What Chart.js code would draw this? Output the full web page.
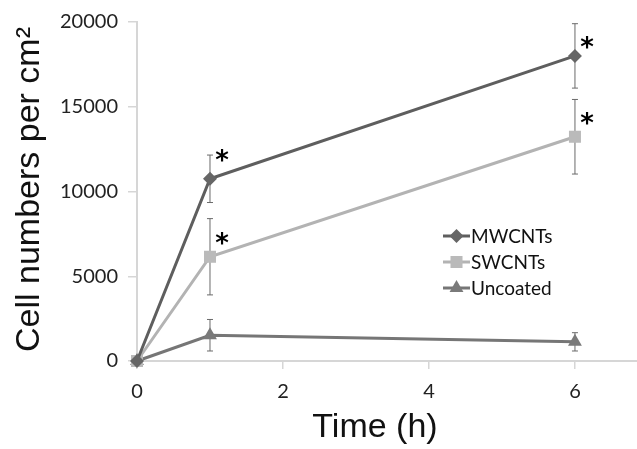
<!DOCTYPE html>
<html>
<head>
<meta charset="utf-8">
<script src="https://cdn.jsdelivr.net/npm/chart.js@4"></script>
<style>
    html, body { margin: 0; padding: 0; background: #fff; overflow: hidden; }
</style>
</head>
<body>
<canvas id="chart" width="637" height="449"></canvas>
<script>
// Chart data
const times = [0, 1, 6];
const xTicks = [0, 2, 4, 6];
const yTicks = [0, 5000, 10000, 15000, 20000];
const seriesNames = ["MWCNTs", "SWCNTs", "Uncoated"];

const mwValues = [0, 10750, 18000];
const mwErrors = [0, 1400, 1900];
const swValues = [0, 6150, 13230];
const swErrors = [0, 2250, 2200];
const unValues = [0, 1520, 1130];
const unErrors = [0, 930, 540];

// significance marks (value where the * sits)
const mwStars = [null, 12120, 18800];
const swStars = [null, 7200, 14300];

const xTitle = "Time (h)";
const yTitle = "Cell numbers per cm\u00B2";

function toPoints(values) {
    return times.map((t, i) => ({ x: t, y: values[i] }));
}

// Error bars drawn through the scales
const errorBars = {
    id: "errorBars",
    beforeDatasetsDraw(chart) {
        const ctx = chart.ctx;
        const xs = chart.scales.x;
        const ys = chart.scales.y;
        ctx.save();
        ctx.strokeStyle = "#6a6a6a";
        ctx.lineWidth = 1;
        chart.data.datasets.forEach(ds => {
            ds.errors.forEach((e, i) => {
                if (!e) return;
                const x = xs.getPixelForValue(times[i]);
                const top = ys.getPixelForValue(ds.values[i] + e);
                const bot = ys.getPixelForValue(ds.values[i] - e);
                ctx.beginPath();
                ctx.moveTo(x, top); ctx.lineTo(x, bot);
                ctx.moveTo(x - 3, top); ctx.lineTo(x + 3, top);
                ctx.moveTo(x - 3, bot); ctx.lineTo(x + 3, bot);
                ctx.stroke();
            });
        });
        ctx.restore();
    }
};

// Asterisks, legend and axis titles
const extras = {
    id: "extras",
    afterDraw(chart) {
        const ctx = chart.ctx;
        const xs = chart.scales.x;
        const ys = chart.scales.y;
        const area = chart.chartArea;
        ctx.save();

        // stars
        ctx.fillStyle = "#000";
        ctx.font = "bold 26px 'DejaVu Sans'";
        ctx.textAlign = "center";
        ctx.textBaseline = "alphabetic";
        const m = ctx.measureText("*");
        const mid = (m.actualBoundingBoxAscent - m.actualBoundingBoxDescent) / 2;
        [mwStars, swStars].forEach(stars => {
            stars.forEach((v, i) => {
                if (v === null) return;
                const x = xs.getPixelForValue(times[i]) + 12;
                const y = ys.getPixelForValue(v);
                ctx.fillText("*", x, y + mid);
            });
        });

        // legend
        ctx.font = "19px Lato";
        ctx.textAlign = "left";
        ctx.textBaseline = "middle";
        chart.data.datasets.forEach((ds, i) => {
            const y = 236 + i * 26;
            ctx.strokeStyle = ds.borderColor;
            ctx.lineWidth = 3;
            ctx.beginPath();
            ctx.moveTo(443, y); ctx.lineTo(470, y);
            ctx.stroke();
            ctx.fillStyle = ds.pointBackgroundColor;
            Chart.helpers.drawPoint(ctx, {
                pointStyle: ds.pointStyle,
                radius: ds.pointRadius,
                borderWidth: 0
            }, 456.5, y);
            ctx.fillStyle = "#111";
            ctx.fillText(ds.label, 471, y + 1);
        });

        // axis titles
        ctx.fillStyle = "#111";
        ctx.font = "34px 'Liberation Sans'";
        ctx.textAlign = "center";
        ctx.textBaseline = "alphabetic";
        ctx.fillText(xTitle, 375, 437);

        ctx.translate(39, (area.top + area.bottom) / 2 - 2);
        ctx.rotate(-Math.PI / 2);
        ctx.fillText(yTitle, 0, 0);
        ctx.restore();
    }
};

const tickFont = { family: "Lato", size: 20 };

new Chart(document.getElementById("chart"), {
    type: "scatter",
    data: {
        datasets: [
            {
                label: seriesNames[0],
                data: toPoints(mwValues),
                values: mwValues,
                errors: mwErrors,
                showLine: true,
                borderColor: "#5e5e5e",
                borderWidth: 3,
                pointStyle: "rectRot",
                pointRadius: 7,
                pointBackgroundColor: "#666666",
                pointBorderWidth: 0,
                clip: false
            },
            {
                label: seriesNames[1],
                data: toPoints(swValues),
                values: swValues,
                errors: swErrors,
                showLine: true,
                borderColor: "#b3b3b3",
                borderWidth: 3,
                pointStyle: "rect",
                pointRadius: 8.5,
                pointBackgroundColor: "#bababa",
                pointBorderWidth: 0,
                clip: false
            },
            {
                label: seriesNames[2],
                data: toPoints(unValues),
                values: unValues,
                errors: unErrors,
                showLine: true,
                borderColor: "#767676",
                borderWidth: 3,
                pointStyle: "triangle",
                pointRadius: 8,
                pointBackgroundColor: "#7a7a7a",
                pointBorderWidth: 0,
                clip: false
            }
        ]
    },
    options: {
        responsive: false,
        animation: false,
        devicePixelRatio: 1,
        layout: { autoPadding: false, padding: { top: 19, right: 0, left: 0, bottom: 0 } },
        plugins: {
            legend: { display: false },
            tooltip: { enabled: false }
        },
        scales: {
            x: {
                type: "linear",
                min: 0,
                max: 6.85,
                afterBuildTicks: s => { s.ticks = xTicks.map(v => ({ value: v })); },
                afterFit: s => { s.height = 88; },
                ticks: { font: tickFont, color: "#222", padding: 11, maxRotation: 0,
                         callback: v => String(v) },
                grid: { drawOnChartArea: false, tickLength: 8, color: "#d6d6d6", lineWidth: 1.5 },
                border: { color: "#d6d6d6", width: 2 }
            },
            y: {
                min: 0,
                max: 20000,
                afterBuildTicks: s => { s.ticks = yTicks.map(v => ({ value: v })); },
                afterFit: s => { s.width = 137; },
                ticks: { font: tickFont, color: "#222", padding: 10,
                         callback: v => String(v) },
                grid: { drawOnChartArea: false, tickLength: 9, color: "#d6d6d6", lineWidth: 1.5 },
                border: { color: "#d6d6d6", width: 2 }
            }
        }
    },
    plugins: [errorBars, extras]
});
</script>
</body>
</html>
